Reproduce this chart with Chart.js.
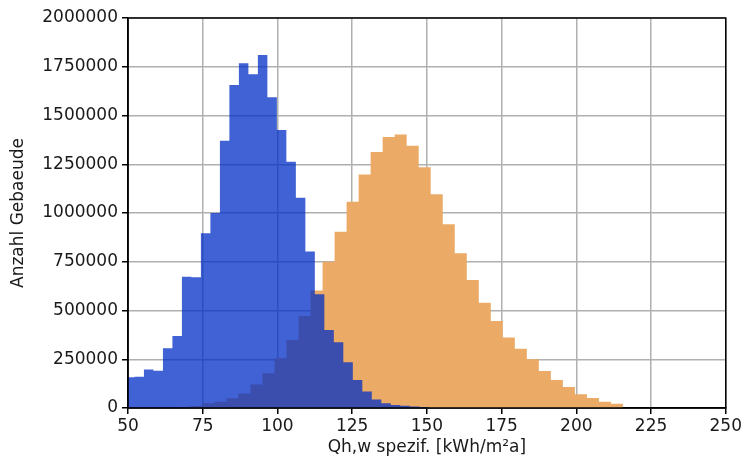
<!DOCTYPE html>
<html>
<head>
<meta charset="utf-8">
<script src="https://cdn.jsdelivr.net/npm/chart.js@4/dist/chart.umd.min.js"></script>
<style>
  html, body { margin: 0; padding: 0; background: #fff; }
  #wrap { width: 744px; height: 466px; }
</style>
</head>
<body>
<div id="wrap"><canvas id="histChart" width="744" height="466"></canvas></div>
<script>
// bin edges (one more than counts) and counts per bin
var blueEdges = [48.98, 52.16, 55.33, 58.51, 61.69, 64.86, 68.04, 71.22, 74.39, 77.57,
  80.75, 83.92, 87.10, 90.28, 93.45, 96.63, 99.81, 102.98, 106.16, 109.34,
  112.51, 115.69, 118.87, 122.04, 125.22, 128.40, 131.57, 134.75, 137.93, 141.10,
  144.28, 147.46, 150.63];
var blueCounts = [158000, 160000, 198000, 191000, 306000, 369000, 673000, 670000, 896000, 1000000,
  1371000, 1656000, 1768000, 1711000, 1810000, 1593000, 1426000, 1263000, 1078000, 802000,
  583000, 400000, 337000, 234000, 144000, 84000, 44000, 24000, 15000, 12000,
  8000, 5000];

var orangeEdges = [66.86, 70.88, 74.90, 78.92, 82.94, 86.96, 90.98, 95.00, 99.02, 103.04,
  107.06, 111.08, 115.10, 119.12, 123.14, 127.16, 131.18, 135.20, 139.22, 143.24,
  147.26, 151.28, 155.30, 159.32, 163.34, 167.36, 171.38, 175.40, 179.42, 183.44,
  187.46, 191.48, 195.50, 199.52, 203.54, 207.56, 211.58, 215.60];
var orangeCounts = [3000, 10000, 24000, 32000, 50000, 75000, 121000, 178000, 255000, 349000,
  472000, 602000, 750000, 904000, 1058000, 1198000, 1313000, 1390000, 1402000, 1345000,
  1235000, 1096000, 942000, 793000, 656000, 540000, 446000, 362000, 304000, 250000,
  190000, 144000, 108000, 70000, 51000, 32000, 22000];

var xTicks = [50, 75, 100, 125, 150, 175, 200, 225, 250];
var yTicks = [0, 250000, 500000, 750000, 1000000, 1250000, 1500000, 1750000, 2000000];

function toSteps(edges, counts) {
  var pts = [];
  for (var i = 0; i < counts.length; i++) {
    pts.push({ x: edges[i], y: counts[i] });
  }
  pts.push({ x: edges[edges.length - 1], y: 0 });
  return pts;
}

var fontFam = "'DejaVu Sans', sans-serif";
var textCol = '#1a1a1a';

var frame = {
  id: 'frame',
  afterDraw: function (chart) {
    var a = chart.chartArea, c = chart.ctx;
    c.save();
    c.strokeStyle = '#000';
    c.lineWidth = 1.5;
    c.strokeRect(a.left, a.top, a.right - a.left, a.bottom - a.top);
    c.restore();
  }
};

var ctx = document.getElementById('histChart').getContext('2d');
var myChart = new Chart(ctx, {
  type: 'line',
  data: {
    datasets: [{
      label: 'blau',
      data: toSteps(blueEdges, blueCounts),
      stepped: true,
      fill: 'origin',
      backgroundColor: 'rgba(0, 46, 198, 0.75)',
      borderColor: 'rgba(0, 0, 0, 0)',
      borderWidth: 0,
      pointRadius: 0,
      order: 0
    }, {
      label: 'orange',
      data: toSteps(orangeEdges, orangeCounts),
      stepped: true,
      fill: 'origin',
      backgroundColor: 'rgb(235, 170, 102)',
      borderColor: 'rgba(0, 0, 0, 0)',
      borderWidth: 0,
      pointRadius: 0,
      order: 1
    }]
  },
  options: {
    responsive: false,
    animation: false,
    layout: { padding: { top: 18, right: 16, left: 0, bottom: 0 } },
    plugins: {
      legend: { display: false },
      tooltip: { enabled: false }
    },
    scales: {
      x: {
        type: 'linear',
        min: 50,
        max: 250,
        z: 1,
        afterBuildTicks: function (scale) {
          scale.ticks = xTicks.map(function (v) { return { value: v }; });
        },
        afterFit: function (scale) { scale.height = 58; },
        ticks: {
          color: textCol,
          font: { family: fontFam, size: 17 },
          padding: 2,
          maxRotation: 0,
          callback: function (v) { return String(v); }
        },
        grid: { color: '#b0b0b0', lineWidth: 1.5, tickColor: '#000', tickLength: 6, tickWidth: 1.5 },
        border: { display: true, color: '#000', width: 1.5 },
        title: {
          display: true,
          text: 'Qh,w spezif. [kWh/m²a]',
          color: textCol,
          font: { family: fontFam, size: 17 },
          padding: { top: 0, bottom: 8 }
        }
      },
      y: {
        min: 0,
        max: 2000000,
        z: 1,
        afterBuildTicks: function (scale) {
          scale.ticks = yTicks.map(function (v) { return { value: v }; });
        },
        afterFit: function (scale) { scale.width = 128; },
        ticks: {
          color: textCol,
          font: { family: fontFam, size: 17 },
          padding: 4,
          callback: function (v) { return String(v); }
        },
        grid: { color: '#b0b0b0', lineWidth: 1.5, tickColor: '#000', tickLength: 6, tickWidth: 1.5 },
        border: { display: true, color: '#000', width: 1.5 },
        title: {
          display: true,
          text: 'Anzahl Gebaeude',
          color: textCol,
          font: { family: fontFam, size: 17 },
          padding: { top: 8, bottom: 0 }
        }
      }
    }
  },
  plugins: [frame]
});
</script>
</body>
</html>
